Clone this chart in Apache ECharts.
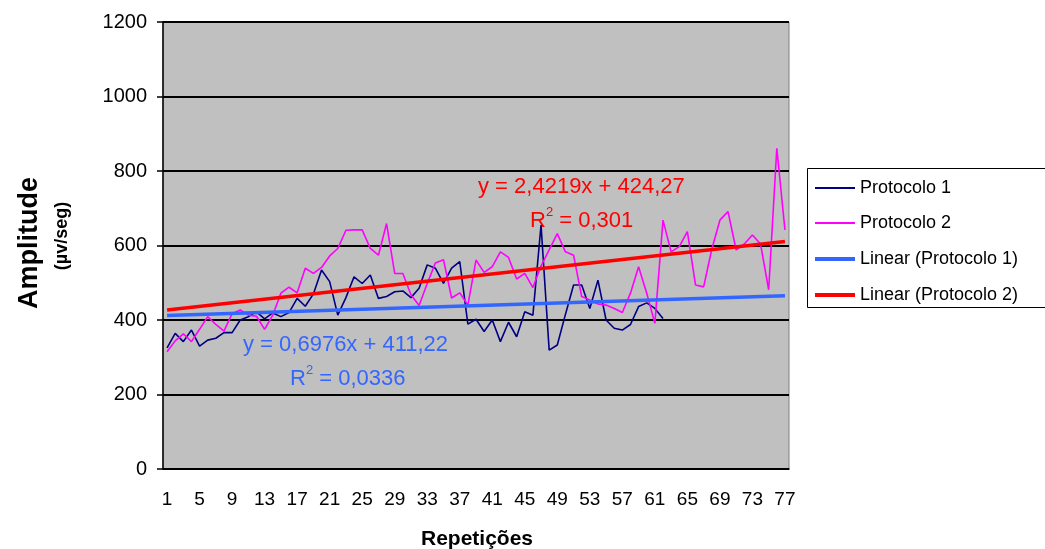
<!DOCTYPE html>
<html>
<head>
<meta charset="utf-8">
<script src="https://cdn.jsdelivr.net/npm/echarts@6/dist/echarts.min.js"></script>
<style>
html,body{margin:0;padding:0;background:#fff;}
#chart{width:1045px;height:549px;}
</style>
</head>
<body>
<div id="chart"></div>
<script>
var categories = ['1','2','3','4','5','6','7','8','9','10','11','12','13','14','15','16','17','18','19','20',
'21','22','23','24','25','26','27','28','29','30','31','32','33','34','35','36','37','38','39','40',
'41','42','43','44','45','46','47','48','49','50','51','52','53','54','55','56','57','58','59','60',
'61','62','63','64','65','66','67','68','69','70','71','72','73','74','75','76','77'];

var protocolo1 = [325,364,342,373,330,346,351,366,366,400,409,422,403,419,409,420,458,437,470,534,
503,413,460,516,498,521,458,463,476,478,460,485,548,539,498,539,557,389,402,369,
400,342,394,355,422,413,655,319,333,415,494,494,431,507,400,378,373,388,436,446,
431,404];

var protocolo2 = [315,344,363,342,375,409,388,370,417,427,413,410,375,413,472,488,473,539,525,541,
572,592,641,642,642,592,574,659,525,525,468,439,498,553,562,459,473,440,561,528,
543,583,568,510,525,487,545,588,632,583,574,463,454,443,440,431,420,472,543,472,
391,668,583,597,637,494,489,590,668,691,588,604,628,604,481,861,642];

var trend1 = [[0, 411.9], [76, 464.9]];
var trend2 = [[0, 426.7], [76, 610.8]];

var seriesNames = ['Protocolo 1', 'Protocolo 2', 'Linear (Protocolo 1)', 'Linear (Protocolo 2)'];
var eqTexts = ['y = 0,6976x + 411,22', '0,0336', 'y = 2,4219x + 424,27', '0,301'];

var FONT = '"Liberation Sans", Arial, sans-serif';
var chart = echarts.init(document.getElementById('chart'), null, {renderer: 'canvas'});

function legendFor(name, top, h) {
  return {
    data: [{name: name, icon: 'rect'}],
    orient: 'vertical',
    left: 815, top: top,
    padding: 0,
    itemWidth: 40, itemHeight: h,
    textStyle: {fontFamily: FONT, fontSize: 18, color: '#000', lineHeight: 20}
  };
}

var option = {
  animation: false,
  backgroundColor: '#ffffff',
  grid: {left: 163, top: 22, width: 626, height: 447, show: true,
         backgroundColor: '#C0C0C0', borderColor: '#808080', borderWidth: 1},
  legend: [
    legendFor(seriesNames[0], 178, 2),
    legendFor(seriesNames[1], 213, 2),
    legendFor(seriesNames[2], 249, 4),
    legendFor(seriesNames[3], 285, 4)
  ],
  xAxis: {
    type: 'category',
    data: categories,
    boundaryGap: true,
    axisLine: {lineStyle: {color: '#000', width: 1.5}},
    axisTick: {interval: 3, alignWithLabel: true, length: 6, lineStyle: {color: '#000', width: 1.5}},
    axisLabel: {interval: 3, fontFamily: FONT, fontSize: 19, color: '#000', margin: 21},
    splitLine: {show: false}
  },
  yAxis: {
    type: 'value',
    min: 0, max: 1200, interval: 200,
    axisLine: {show: true, lineStyle: {color: '#000', width: 1.5}},
    axisTick: {show: true, length: 6, lineStyle: {color: '#000', width: 1.5}},
    axisLabel: {fontFamily: FONT, fontSize: 20, color: '#000', margin: 16,
                formatter: function (v) { return String(v); }},
    splitLine: {show: true, lineStyle: {color: '#000', width: 2}}
  },
  series: [
    {name: seriesNames[0], type: 'line', data: protocolo1, symbol: 'none',
     lineStyle: {color: '#000080', width: 1.6}, itemStyle: {color: '#000080'}},
    {name: seriesNames[1], type: 'line', data: protocolo2, symbol: 'none',
     lineStyle: {color: '#FF00FF', width: 1.6}, itemStyle: {color: '#FF00FF'}},
    {name: seriesNames[2], type: 'line', data: trend1, symbol: 'none',
     lineStyle: {color: '#3366FF', width: 3.5}, itemStyle: {color: '#3366FF'}},
    {name: seriesNames[3], type: 'line', data: trend2, symbol: 'none',
     lineStyle: {color: '#FF0000', width: 3.5}, itemStyle: {color: '#FF0000'}}
  ],
  graphic: [
    {type: 'rect', shape: {x: 807.5, y: 168.5, width: 300, height: 139},
     style: {fill: 'none', stroke: '#000', lineWidth: 1}},
    {type: 'text', left: 243, top: 334, style: {text: eqTexts[0], font: '22px ' + FONT, fill: '#3366FF'}},
    {type: 'text', left: 290, top: 364, style: {text: '{a|R}{s|2}{a| = ' + eqTexts[1] + '}', fill: '#3366FF',
      rich: {a: {fontFamily: FONT, fontSize: 22, color: '#3366FF', verticalAlign: 'bottom', lineHeight: 26},
             s: {fontFamily: FONT, fontSize: 13, color: '#3366FF', verticalAlign: 'top', lineHeight: 26}}}},
    {type: 'text', left: 478, top: 176, style: {text: eqTexts[2], font: '22px ' + FONT, fill: '#FF0000'}},
    {type: 'text', left: 530, top: 206, style: {text: '{a|R}{s|2}{a| = ' + eqTexts[3] + '}', fill: '#FF0000',
      rich: {a: {fontFamily: FONT, fontSize: 22, color: '#FF0000', verticalAlign: 'bottom', lineHeight: 26},
             s: {fontFamily: FONT, fontSize: 13, color: '#FF0000', verticalAlign: 'top', lineHeight: 26}}}},
    {type: 'text', x: 30, y: 243, rotation: Math.PI / 2,
     style: {text: 'Amplitude', font: 'bold 27px ' + FONT, fill: '#000', textAlign: 'center', textVerticalAlign: 'middle'}},
    {type: 'text', x: 62, y: 236, rotation: Math.PI / 2,
     style: {text: '(µv/seg)', font: 'bold 18px ' + FONT, fill: '#000', textAlign: 'center', textVerticalAlign: 'middle'}},
    {type: 'text', x: 477, y: 539,
     style: {text: 'Repetições', font: 'bold 21px ' + FONT, fill: '#000', textAlign: 'center', textVerticalAlign: 'middle'}}
  ]
};
chart.setOption(option);
</script>
</body>
</html>
